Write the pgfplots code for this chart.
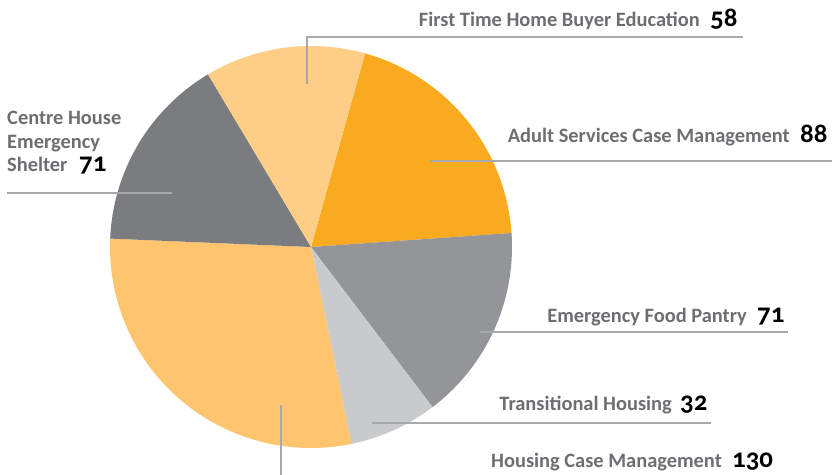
\documentclass[border=0pt]{standalone}
\usepackage{fontspec}
\setmainfont{Carlito}
\newfontfamily\numfont[Numbers=OldStyle]{Carlito}
\usepackage{pgfplots}
\pgfplotsset{compat=1.18}
\definecolor{cAdult}{HTML}{FAAA1E}
\definecolor{cFood}{HTML}{949599}
\definecolor{cTrans}{HTML}{C9CACC}
\definecolor{cHousing}{HTML}{FEC46E}
\definecolor{cCentre}{HTML}{7B7C80}
\definecolor{cFirst}{HTML}{FECE86}
\definecolor{cText}{HTML}{6D6E71}
\definecolor{cLine}{HTML}{A7A9AC}
\newcommand{\lab}[1]{\fontsize{20.5}{23}\selectfont\bfseries\color{cText}#1}
\newcommand{\num}[1]{\fontsize{27}{30}\selectfont\bfseries\numfont\color{black}#1}
\begin{document}
\begin{tikzpicture}
% values
\def\vAdult{88}\def\vFood{71}\def\vTrans{32}\def\vHousing{130}\def\vCentre{71}\def\vFirst{58}
\pgfmathsetmacro{\tot}{\vAdult+\vFood+\vTrans+\vHousing+\vCentre+\vFirst}
\pgfmathsetmacro{\k}{360/\tot}
\pgfmathsetmacro{\aA}{15.6}
\pgfmathsetmacro{\aB}{\aA+\vAdult*\k}
\pgfmathsetmacro{\aC}{\aB+\vFood*\k}
\pgfmathsetmacro{\aD}{\aC+\vTrans*\k}
\pgfmathsetmacro{\aE}{\aD+\vHousing*\k}
\pgfmathsetmacro{\aF}{\aE+\vCentre*\k}
\pgfmathsetmacro{\aG}{\aF+\vFirst*\k}
\begin{axis}[scale only axis, width=834bp, height=475bp,
  xmin=0, xmax=834, ymin=0, ymax=475, y dir=reverse,
  hide axis, clip=false]
\addplot[fill=cAdult, draw=none, domain=\aA:\aB, samples=60, variable=\t] ({311+201*sin(t)},{247-201*cos(t)}) -- (axis cs:311,247) -- cycle;
\addplot[fill=cFood, draw=none, domain=\aB:\aC, samples=60, variable=\t] ({311+201*sin(t)},{247-201*cos(t)}) -- (axis cs:311,247) -- cycle;
\addplot[fill=cTrans, draw=none, domain=\aC:\aD, samples=40, variable=\t] ({311+201*sin(t)},{247-201*cos(t)}) -- (axis cs:311,247) -- cycle;
\addplot[fill=cHousing, draw=none, domain=\aD:\aE, samples=80, variable=\t] ({311+201*sin(t)},{247-201*cos(t)}) -- (axis cs:311,247) -- cycle;
\addplot[fill=cCentre, draw=none, domain=\aE:\aF, samples=60, variable=\t] ({311+201*sin(t)},{247-201*cos(t)}) -- (axis cs:311,247) -- cycle;
\addplot[fill=cFirst, draw=none, domain=\aF:\aG, samples=60, variable=\t] ({311+201*sin(t)},{247-201*cos(t)}) -- (axis cs:311,247) -- cycle;
% leader lines
\draw[cLine, line width=1.3bp] (axis cs:307,84) -- (axis cs:307,37) -- (axis cs:743,37);
\draw[cLine, line width=1.3bp] (axis cs:430,161) -- (axis cs:832,161);
\draw[cLine, line width=1.3bp] (axis cs:7,193) -- (axis cs:172,193);
\draw[cLine, line width=1.3bp] (axis cs:480,332) -- (axis cs:788,332);
\draw[cLine, line width=1.3bp] (axis cs:372,423) -- (axis cs:711,423);
\draw[cLine, line width=1.3bp] (axis cs:281,405) -- (axis cs:281,475);
% labels
\node[anchor=base east, inner sep=0] at (axis cs:700,27) {\lab{First Time Home Buyer Education}};
\node[anchor=base west, inner sep=0] at (axis cs:710,27) {\num{\vFirst}};
\node[anchor=base east, inner sep=0] at (axis cs:790,142) {\lab{Adult Services Case Management}};
\node[anchor=base west, inner sep=0] at (axis cs:800,142) {\num{\vAdult}};
\node[anchor=base west, inner sep=0] at (axis cs:7,125) {\lab{Centre House}};
\node[anchor=base west, inner sep=0] at (axis cs:7,148) {\lab{Emergency}};
\node[anchor=base west, inner sep=0] at (axis cs:7,171) {\lab{Shelter}};
\node[anchor=base west, inner sep=0] at (axis cs:79,171) {\num{\vCentre}};
\node[anchor=base east, inner sep=0] at (axis cs:747,322) {\lab{Emergency Food Pantry}};
\node[anchor=base west, inner sep=0] at (axis cs:757,322) {\num{\vFood}};
\node[anchor=base east, inner sep=0] at (axis cs:672,410) {\lab{Transitional Housing}};
\node[anchor=base west, inner sep=0] at (axis cs:680,410) {\num{\vTrans}};
\node[anchor=base east, inner sep=0] at (axis cs:722,467) {\lab{Housing Case Management}};
\node[anchor=base west, inner sep=0] at (axis cs:732,467) {\num{\vHousing}};
\end{axis}
\pgfresetboundingbox
\path[use as bounding box] (current axis.south west) rectangle (current axis.north east);
\end{tikzpicture}
\end{document}
